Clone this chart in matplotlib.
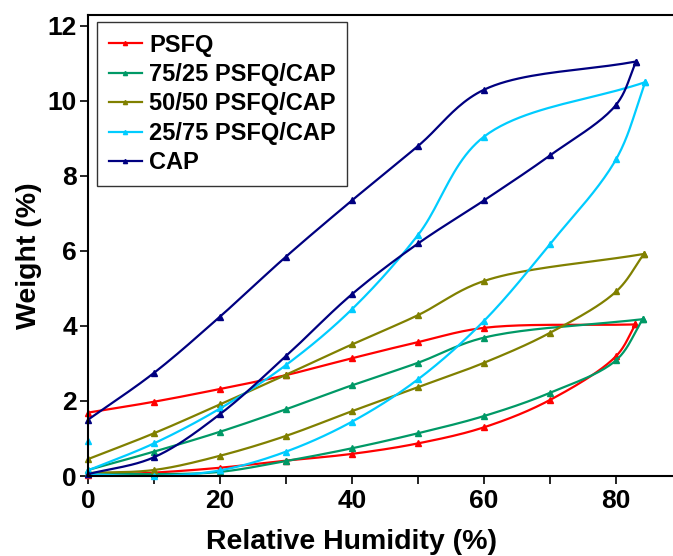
import numpy as np
import matplotlib
matplotlib.use('Agg')
import matplotlib.pyplot as plt
from matplotlib.lines import Line2D
from matplotlib.ticker import MultipleLocator

plt.rcParams['font.family'] = ['Liberation Sans', 'DejaVu Sans']
plt.rcParams['font.weight'] = 'bold'

# relative humidity steps, sorption (up) and desorption (down)
rh_up = [0, 10, 20, 30, 40, 50, 60, 70, 80]
rh_down = [60, 50, 40, 30, 20, 10, 0]

labels = ['PSFQ', '75/25 PSFQ/CAP', '50/50 PSFQ/CAP', '25/75 PSFQ/CAP', 'CAP']
colors = ['#ff0000', '#009966', '#808000', '#00ccff', '#000080']

# final (max RH) point of each loop
rh_top = [82.9, 84.0, 84.2, 84.4, 83.0]
w_top = [4.04, 4.18, 5.92, 10.50, 11.05]

# sorption branches
psfq_up = [0.02, 0.09, 0.22, 0.41, 0.59, 0.87, 1.30, 2.03, 3.20]
p75_up = [0.08, 0.05, 0.11, 0.40, 0.74, 1.14, 1.60, 2.22, 3.09]
p50_up = [0.08, 0.16, 0.54, 1.07, 1.73, 2.37, 3.02, 3.82, 4.92]
p25_up = [0.05, 0.00, 0.15, 0.65, 1.45, 2.58, 4.14, 6.19, 8.45]
cap_up = [0.05, 0.50, 1.65, 3.20, 4.85, 6.20, 7.35, 8.55, 9.90]

# desorption branches
psfq_down = [3.95, 3.57, 3.14, 2.69, 2.32, 1.98, 1.69]
p75_down = [3.69, 3.02, 2.42, 1.78, 1.18, 0.65, 0.16]
p50_down = [5.20, 4.29, 3.51, 2.70, 1.91, 1.14, 0.45]
p25_down = [9.05, 6.43, 4.45, 2.96, 1.80, 0.87, 0.15]
cap_down = [10.30, 8.80, 7.35, 5.85, 4.25, 2.75, 1.50]

# lone 25/75 point on the y axis
p25_extra_x = [0]
p25_extra_y = [0.92]

ups = [psfq_up, p75_up, p50_up, p25_up, cap_up]
downs = [psfq_down, p75_down, p50_down, p25_down, cap_down]


def smooth(xs, ys, n=24):
    # centripetal catmull-rom, done in roughly screen-proportional units
    sx, sy = 6.6, 37.5
    P = np.column_stack([np.asarray(xs) * sx, np.asarray(ys) * sy])
    P = np.vstack([2 * P[0] - P[1], P, 2 * P[-1] - P[-2]])
    out = []
    for i in range(1, len(P) - 2):
        p0, p1, p2, p3 = P[i - 1], P[i], P[i + 1], P[i + 2]
        t0 = 0.0
        t1 = t0 + np.linalg.norm(p1 - p0) ** 0.5 + 1e-9
        t2 = t1 + np.linalg.norm(p2 - p1) ** 0.5 + 1e-9
        t3 = t2 + np.linalg.norm(p3 - p2) ** 0.5 + 1e-9
        t = np.linspace(t1, t2, n)[:, None]
        a1 = (t1 - t) / (t1 - t0) * p0 + (t - t0) / (t1 - t0) * p1
        a2 = (t2 - t) / (t2 - t1) * p1 + (t - t1) / (t2 - t1) * p2
        a3 = (t3 - t) / (t3 - t2) * p2 + (t - t2) / (t3 - t2) * p3
        b1 = (t2 - t) / (t2 - t0) * a1 + (t - t0) / (t2 - t0) * a2
        b2 = (t3 - t) / (t3 - t1) * a2 + (t - t1) / (t3 - t1) * a3
        c = (t2 - t) / (t2 - t1) * b1 + (t - t1) / (t2 - t1) * b2
        out.append(c)
    out = np.vstack(out)
    return out[:, 0] / sx, out[:, 1] / sy


fig = plt.figure(figsize=(6.73, 5.56), dpi=100)
ax = fig.add_axes([88 / 673, 1 - 476 / 556, 1 - 88 / 673, (476 - 15) / 556])

for i in range(5):
    xu = rh_up + [rh_top[i]]
    yu = ups[i] + [w_top[i]]
    xd = [rh_top[i]] + rh_down
    yd = [w_top[i]] + downs[i]
    for xs, ys in [(xu, yu), (xd, yd)]:
        cx, cy = smooth(xs, ys)
        ax.plot(cx, cy, color=colors[i], lw=1.6)
        ax.plot(xs, ys, ls='none', marker='^', ms=4, color=colors[i], clip_on=False)

ax.plot(p25_extra_x, p25_extra_y, ls='none', marker='^', ms=4, color=colors[3], clip_on=False)

ax.set_xlim(0, 88.6)
ax.set_ylim(0, 12.29)
ax.xaxis.set_major_locator(MultipleLocator(20))
ax.xaxis.set_minor_locator(MultipleLocator(10))
ax.yaxis.set_major_locator(MultipleLocator(2))
ax.tick_params(axis='both', which='both', direction='out', length=6, width=1.2, labelsize=19)
ax.tick_params(axis='x', pad=3)
ax.tick_params(axis='y', pad=2)
ax.spines['right'].set_visible(False)
for s in ['left', 'bottom', 'top']:
    ax.spines[s].set_linewidth(1.5)

ax.set_xlabel('Relative Humidity (%)', fontsize=20.5, fontweight='bold')
ax.set_ylabel('Weight (%)', fontsize=20.5, fontweight='bold')
ax.xaxis.set_label_coords((352 - 88) / 585, (476 - 529) / 461)
ax.yaxis.set_label_coords((42 - 88) / 585, (476 - 256) / 461)

handles = [Line2D([], [], color=c, lw=1.6, marker='^', ms=3) for c in colors]
leg = ax.legend(handles, labels, loc='upper left', bbox_to_anchor=(0.0154, 0.985),
                fontsize=17, frameon=True, fancybox=False, edgecolor='black',
                handlelength=1.4, handletextpad=0.3, labelspacing=0.27,
                borderpad=0.5, borderaxespad=0, numpoints=1)
leg.get_frame().set_linewidth(1.0)
for t in leg.get_texts():
    t.set_fontweight('bold')

fig.savefig('out.png', dpi=100)
